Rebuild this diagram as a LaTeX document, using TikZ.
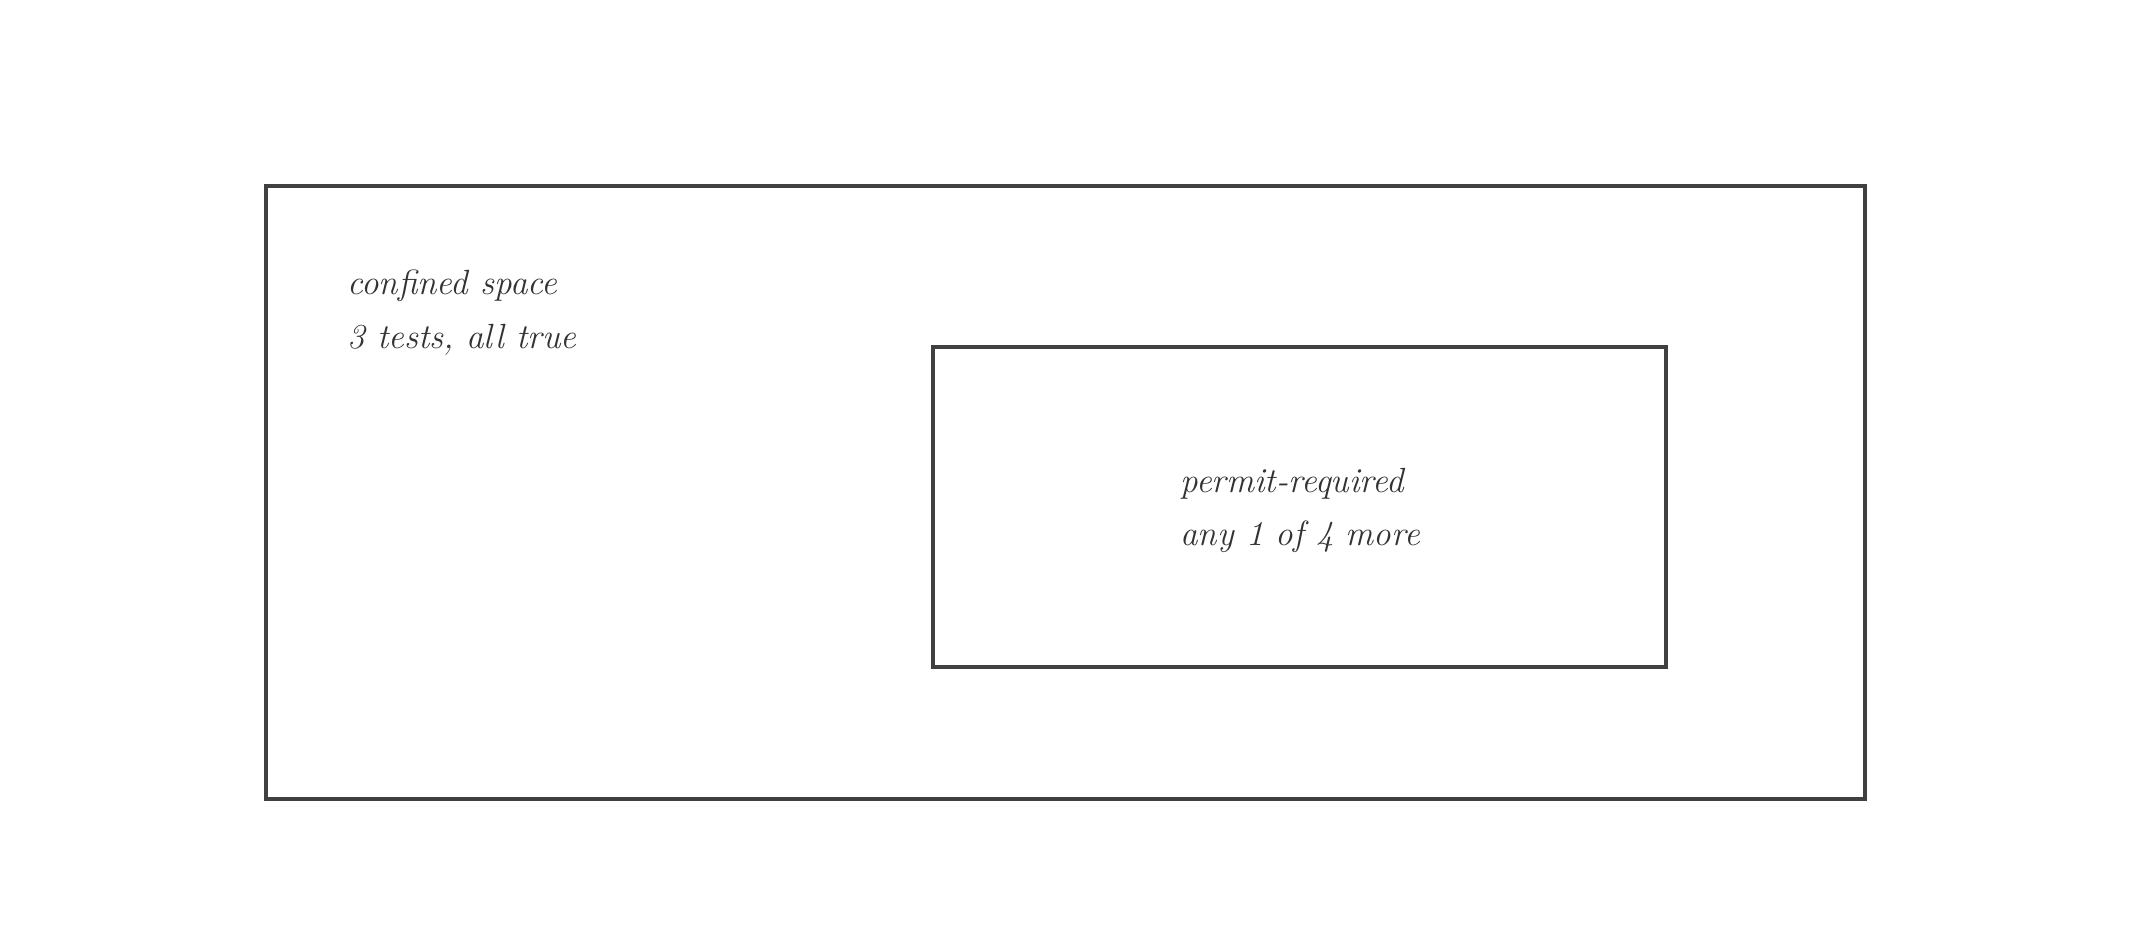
\documentclass[tikz,border=0pt]{standalone}
\usepackage{fontspec}
\definecolor{linegray}{HTML}{404040}
\definecolor{textgray}{HTML}{333333}
\begin{document}
\begin{tikzpicture}[x=0.5pt,y=-0.5pt,
  box/.style={draw=linegray,line width=2pt,inner sep=0pt,outer sep=0pt},
  lbl/.style={anchor=base west,inner sep=0pt,text=textgray,font=\fontsize{17.5}{20}\selectfont\itshape}]
\useasboundingbox (0,0) rectangle (2133,933);
\node[box,minimum width=799.5pt,minimum height=306.5pt] (outer) at (1065.5,492.5) {};
\node[box,minimum width=366.5pt,minimum height=160pt] (inner) at (1299.5,507) {};
\node[lbl] (t1) at (347,294) {confined space};
\node[lbl] (t2) at (347,348) {3 tests, all true};
\node[lbl] (t3) at (1180,492) {permit-required};
\node[lbl] (t4) at (1180,545) {any 1 of 4 more};
\end{tikzpicture}
\end{document}
